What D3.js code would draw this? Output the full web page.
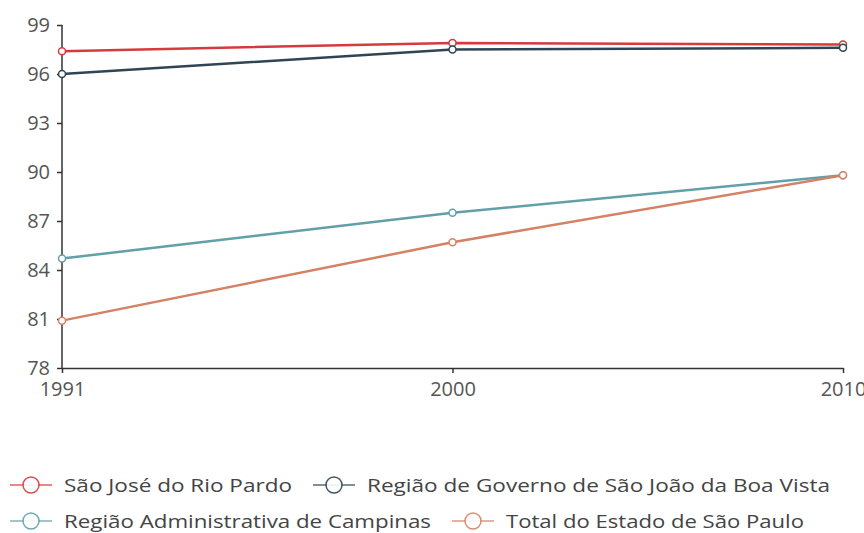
<!DOCTYPE html>
<html>
<head>
<meta charset="utf-8">
<script src="https://cdn.jsdelivr.net/npm/d3@7"></script>
<style>
  html, body { margin: 0; padding: 0; background: #fff; }
  svg { display: block; font-family: "Open Sans", "Noto Sans", sans-serif; }
</style>
</head>
<body>
<svg id="chart" width="864" height="533"></svg>
<script>
// Years on the horizontal axis
const years = ["1991", "2000", "2010"];

// Series names (legend order)
const seriesNames = [
  "São José do Rio Pardo",
  "Região de Governo de São João da Boa Vista",
  "Região Administrativa de Campinas",
  "Total do Estado de São Paulo"
];

// Values per series, one per year
const saoJose = [97.4, 97.9, 97.8];
const regiaoGoverno = [96.0, 97.5, 97.6];
const regiaoCampinas = [84.7, 87.5, 89.8];
const totalEstado = [80.9, 85.7, 89.8];

// Y axis tick labels
const yTicks = [78, 81, 84, 87, 90, 93, 96, 99];

const colors = ["#d63a3e", "#2f4554", "#61a0a8", "#d48265"];
const seriesValues = [saoJose, regiaoGoverno, regiaoCampinas, totalEstado];

const svg = d3.select("#chart");
const plotLeft = 62, plotRight = 843, plotTop = 25, plotBottom = 368;

const x = d3.scalePoint().domain(years).range([plotLeft, plotRight]);
const y = d3.scaleLinear().domain([78, 99]).range([plotBottom, plotTop]);

// Axes
const yAxis = svg.append("g")
  .attr("transform", `translate(${plotLeft},0)`)
  .call(d3.axisLeft(y).tickValues(yTicks).tickSize(5).tickPadding(7));
const xAxis = svg.append("g")
  .attr("transform", `translate(0,${plotBottom})`)
  .call(d3.axisBottom(x).tickSize(5).tickPadding(9).tickSizeOuter(0));

[yAxis, xAxis].forEach(g => {
  g.select(".domain").attr("stroke", "#333").attr("stroke-width", 1.5);
  g.selectAll(".tick line").attr("stroke", "#333").attr("stroke-width", 1.5);
  g.selectAll(".tick text")
    .attr("fill", "#555")
    .style("font-size", "20px")
    .style("font-family", "\"Open Sans\", \"Noto Sans\", sans-serif");
});
yAxis.select(".domain").attr("d", `M0,${plotBottom}V${plotTop}`);

// Lines and point markers
const line = d3.line().x((d, i) => x(years[i])).y(d => y(d));
const plot = svg.append("g");
seriesValues.forEach((vals, s) => {
  plot.append("path")
    .attr("d", line(vals))
    .attr("fill", "none")
    .attr("stroke", colors[s])
    .attr("stroke-width", 2.5);
});
seriesValues.forEach((vals, s) => {
  plot.selectAll(null)
    .data(vals)
    .enter().append("circle")
    .attr("cx", (d, i) => x(years[i]))
    .attr("cy", d => y(d))
    .attr("r", 3.5)
    .attr("fill", "#fff")
    .attr("stroke", colors[s])
    .attr("stroke-width", 1.5);
});

// Legend in two rows
const legend = svg.append("g");
const rowY = [485, 521];
const itemX = [[10, 313], [10, 452]];
const labelWidths = [228, 463, 367, 298];
seriesNames.forEach((name, i) => {
  const row = Math.floor(i / 2), col = i % 2;
  const g = legend.append("g")
    .attr("transform", `translate(${itemX[row][col]},${rowY[row]})`);
  g.append("line")
    .attr("x1", 0).attr("x2", 42).attr("y1", 0).attr("y2", 0)
    .attr("stroke", colors[i]).attr("stroke-width", 1.5).attr("opacity", 0.8);
  g.append("circle")
    .attr("cx", 21).attr("cy", 0).attr("r", 8)
    .attr("fill", "#fff").attr("stroke", colors[i]).attr("stroke-width", 1.5).attr("opacity", 0.9);
  g.append("text")
    .attr("x", 54).attr("y", 0).attr("dy", "0.35em")
    .attr("fill", "#444")
    .attr("textLength", labelWidths[i])
    .attr("lengthAdjust", "spacingAndGlyphs")
    .style("font-size", "19px")
    .text(name);
});
</script>
</body>
</html>
